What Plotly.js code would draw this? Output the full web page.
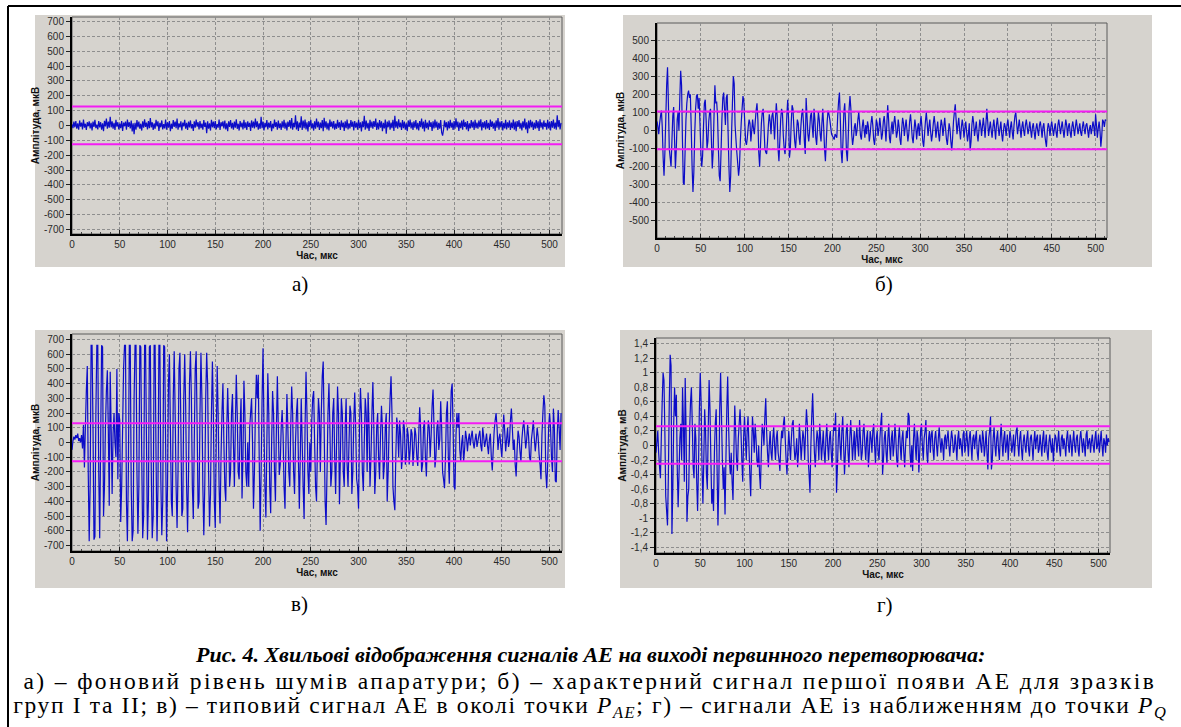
<!DOCTYPE html>
<html>
<head>
<meta charset="utf-8">
<script src="https://cdn.plot.ly/plotly-3.0.1.min.js"></script>
<style>
html,body{margin:0;padding:0;background:#fff;}
#chart{width:1181px;height:727px;}
.annotation[data-index="5"] text{letter-spacing:2.4px;}
.annotation[data-index="6"] text{letter-spacing:1.65px;}
</style>
</head>
<body>
<div id="chart"></div>
<script>
// ---------------- DATA ----------------
const SAMPLE_STEP_US = 1;
const xTickVals = [0,50,100,150,200,250,300,350,400,450,500];
const xTickText = ['0','50','100','150','200','250','300','350','400','450','500'];
const yTickVals700 = [-700,-600,-500,-400,-300,-200,-100,0,100,200,300,400,500,600,700];
const yTickText700 = ['-700','-600','-500','-400','-300','-200','-100','0','100','200','300','400','500','600','700'];
const yTickVals500 = [-500,-400,-300,-200,-100,0,100,200,300,400,500];
const yTickText500 = ['-500','-400','-300','-200','-100','0','100','200','300','400','500'];
const yTickValsMV = [-1.4,-1.2,-1,-0.8,-0.6,-0.4,-0.2,0,0.2,0.4,0.6,0.8,1,1.2,1.4];
const yTickTextMV = ['-1,4','-1,2','-1','-0,8','-0,6','-0,4','-0,2','0','0,2','0,4','0,6','0,8','1','1,2','1,4'];

const thresholdA = [128, -126];
const thresholdB = [105, -103];
const thresholdC = [130, -128];
const thresholdD = [0.265, -0.25];

// а) background noise, мкВ
const signalA = [
8,-18,26,-12,30,-22,14,-28,34,-8,20,-26,40,-14,12,-30,22,-5,28,-20,
18,-34,26,-9,38,-18,6,-26,30,-13,22,-28,14,-38,32,-6,46,-22,26,-14,
58,-12,28,-22,18,-30,38,-8,22,-26,12,-18,30,-36,20,-5,26,-28,40,-10,
22,-20,34,-40,14,-58,18,-28,36,-12,26,-22,12,-34,28,-14,42,-9,20,-26,
30,-18,50,-13,22,-30,14,-22,38,-6,28,-36,18,-12,34,-26,9,-20,40,-28,
22,-14,30,-38,12,-22,36,-9,26,-18,46,-28,14,-12,28,-34,20,-6,38,-22,
18,-30,26,-13,34,-20,9,-36,28,-14,40,-8,22,-26,30,-18,12,-28,36,-9,
20,-52,28,-22,14,-34,38,-12,26,-18,30,-26,9,-14,40,-30,22,-6,28,-20,
34,-26,14,-38,28,-9,36,-20,18,-28,26,-14,42,-22,12,-34,30,-12,20,-26,
38,-18,22,-30,28,-9,18,-36,34,-14,26,-20,46,-12,28,-28,14,-22,58,-18,
26,-34,18,-12,36,-26,20,-14,30,-38,12,-20,40,-9,22,-28,34,-18,14,-30,
28,-14,38,-22,20,-34,26,-9,36,-20,50,-28,18,-12,68,-26,28,-36,20,-14,
62,-30,34,-18,40,-26,22,-40,30,-9,38,-20,14,-34,28,-22,46,-12,26,-30,
20,-18,36,-38,52,-14,28,-26,18,-34,40,-9,26,-20,30,-28,12,-22,38,-14,
22,-30,34,-12,20,-36,28,-18,40,-26,14,-20,36,-9,26,-34,30,-14,20,-28,
38,-18,22,-40,28,-12,66,-28,34,-20,18,-36,38,-14,26,-22,30,-9,46,-30,
20,-26,36,-14,28,-38,18,-20,40,-56,26,-12,34,-28,20,-18,38,-36,66,-14,
28,-22,42,-12,20,-30,36,-18,26,-28,14,-38,34,-9,40,-20,22,-30,28,-14,
36,-26,18,-34,30,-12,46,-22,26,-40,38,-18,20,-28,34,-9,22,-36,28,-20,
40,-14,26,-30,18,-22,36,-46,-68,-28,34,-12,22,-34,28,-20,38,-14,20,-30,
30,-22,48,-12,26,-36,20,-18,34,-28,40,-9,22,-26,30,-38,14,-20,36,-14,
26,-30,38,-18,20,-22,34,-12,42,-34,22,-14,28,-26,36,-20,18,-30,40,-9,
28,-22,20,-36,34,-14,50,-28,26,-12,30,-34,18,-20,38,-26,22,-14,34,-30,
20,-18,40,-28,26,-38,30,-9,36,-22,18,-34,28,-14,46,-26,22,-52,34,-20,
38,-12,26,-30,20,-22,36,-18,28,-36,42,-14,22,-26,34,-9,18,-28,38,-20,
26,-34,30,-14,40,-22,20,-28,68,-12,36,-26,18
];

// б) first AE appearance, мкВ
const signalB = [
50,20,-20,40,80,110,20,-150,-250,-120,
60,250,350,150,-100,-150,-200,-60,80,130,
-50,-210,-100,60,100,0,180,330,250,-50,
-290,-300,-120,60,150,200,220,180,200,20,
-200,-340,-230,-20,120,190,200,120,180,40,
-120,-200,-140,20,150,170,60,-100,-60,50,
100,120,-50,-210,-120,80,250,150,160,80,
-100,-250,-280,-120,60,180,210,120,30,180,
200,0,-200,-340,-250,-20,150,300,260,30,
-50,-120,-180,-250,-200,-60,40,120,190,160,
50,-60,-80,-40,20,60,40,-60,0,60,
10,-20,50,110,150,60,-120,-200,-80,40,
100,120,20,-100,-120,-130,-60,30,90,50,
-20,80,100,40,-50,60,150,80,-100,-170,
-60,60,120,100,-30,-100,-130,-40,80,170,
60,-150,-100,40,140,120,20,-60,-100,-20,
60,40,-40,-80,20,90,120,40,-60,-130,
180,80,-20,-60,0,80,100,20,-40,120,
60,-40,-80,20,100,60,-20,-60,40,120,
20,-100,-170,-60,50,110,90,60,20,-20,
-30,-40,-50,-20,-30,-40,80,160,210,60,
-120,-180,-60,100,150,40,-120,-170,-40,120,
190,120,-20,-80,-40,20,40,-30,0,60,
100,40,-30,-50,20,60,10,-40,30,-20,
50,20,-60,-20,40,80,30,-50,-80,-20,
60,40,-30,10,70,20,-50,-20,50,80,
20,-60,30,140,60,-40,-70,10,50,-20,
40,80,30,-40,-10,60,20,-50,-80,10,
70,40,-30,20,60,0,-60,-20,50,90,
30,-40,-70,0,60,20,-50,10,40,-30,
30,80,20,-60,-90,-20,50,100,40,-30,
20,60,-10,-60,-20,40,80,30,-40,10,
50,-20,-60,10,60,30,-30,20,70,10,
-50,-80,-20,40,10,-60,-110,-40,50,100,
145,60,-20,30,70,0,-50,20,60,20,
-40,10,50,-10,-60,-20,40,-110,-60,30,
80,40,-30,10,50,-20,-60,0,60,30,
-30,20,70,20,-40,40,120,50,-30,10,
50,0,-40,20,60,10,-50,30,70,20,
-30,10,50,-20,-60,0,40,20,-30,30,
60,10,-40,20,50,-10,-50,30,80,100,
40,-20,20,60,10,-40,20,50,0,-30,
30,60,20,-20,10,50,0,-40,20,40,
-10,-50,10,40,0,-30,30,50,10,-40,
20,40,-20,-60,-90,0,40,20,-30,20,
50,10,-30,10,40,-10,-40,30,60,20,
-20,20,50,0,-40,10,60,30,-30,20,
40,-10,-40,20,50,10,-30,20,60,20,
-20,10,40,-10,-30,20,50,10,-20,30,
40,0,-40,10,30,-20,10,50,20,-30,
90,30,-40,10,50,0,-90,-30,60,50,
20,60,55
];

// в) typical AE signal near P_AE, мкВ
const signalC = [
-50,10,40,20,50,30,60,10,30,0,
50,-40,120,-170,100,350,520,-200,-670,-300,
660,660,100,-660,-640,200,660,660,-200,-650,
0,660,650,-500,-300,100,350,490,100,-430,
480,100,-350,60,200,0,-100,500,-250,200,
150,-540,-300,100,500,660,660,-400,-670,-200,
660,660,-300,-670,-600,300,660,660,-200,-620,
-300,660,650,-100,-650,-500,660,660,0,-660,
-400,650,660,-200,-650,-500,660,660,-100,-670,
-300,660,660,-250,-630,-400,660,650,0,-670,
-300,400,600,100,-400,-500,300,620,200,-300,
-580,-200,500,610,100,-500,-450,300,600,250,
-300,-610,-200,400,620,300,-300,-520,0,500,
620,100,-450,-400,200,610,300,-300,-630,-300,
300,610,400,-200,-570,-350,200,550,200,-400,
-580,0,520,200,-300,-550,-100,200,400,0,
-300,-400,100,370,100,-300,-200,200,330,0,
-300,100,460,200,-200,-250,100,300,-380,-100,
420,200,-200,-300,0,-300,100,200,300,0,
-450,-200,200,460,300,460,-100,-600,-200,300,
640,100,-300,-510,0,470,200,-300,-480,0,
350,200,-200,-400,100,450,100,-220,-150,100,
220,50,-300,-450,0,330,100,-200,-300,100,
380,200,-200,-350,0,200,300,-100,-450,-100,
300,0,-300,-520,100,480,200,-200,-350,0,
-200,150,300,350,0,-300,-400,0,300,200,
-200,200,450,550,100,-400,-560,-200,200,400,
100,-300,-200,200,300,-100,-350,0,380,200,
-420,-100,300,200,-200,-300,100,300,-150,-300,
0,250,200,-350,-200,150,340,100,-250,-300,
-450,100,370,200,-200,-330,0,300,200,-200,
340,100,-300,-100,200,410,100,-350,-200,100,
200,-100,-250,50,250,100,-250,-150,100,200,
-400,-200,100,300,450,200,-300,-400,-460,-100,
170,100,-100,150,50,-180,-100,150,100,-150,
-100,100,50,-150,-50,90,60,-160,-50,100,
50,-100,-160,50,240,100,-200,-150,100,150,
-100,-230,0,150,100,-100,50,250,360,100,
-170,-100,100,150,-50,20,280,100,-200,-250,
-310,-100,200,280,-100,-280,100,350,400,100,
-300,-320,50,200,100,200,-50,-130,0,50,
-130,-50,80,30,-60,20,60,-20,40,80,
0,-40,20,60,-30,10,50,80,-20,-60,
100,40,-30,10,60,-20,-80,20,60,-100,
-190,-50,80,150,200,100,-50,30,60,-30,
-100,40,190,80,-60,20,100,-30,10,150,
230,100,-50,20,-150,-230,-50,80,40,-60,
-130,20,100,150,60,-40,20,120,40,-100,
-130,20,80,150,30,-60,10,100,40,-80,
-150,-250,50,200,320,250,-200,-310,-150,100,
200,100,-100,-200,230,100,-260,-270,50,220,
100,-50,200
];

// г) AE signals approaching P_Q, мВ
const signalD = [
-0.1,0.05,0.2,-0.1,-0.3,-0.45,0.1,0.6,1.0,0.9,
0.2,-0.7,-0.9,-1.1,-0.4,0.6,1.25,1.1,-1.22,-0.6,
0.3,0.8,0.4,0.7,-0.3,-0.85,-0.4,0.1,0.3,-0.2,
0.8,0.3,-0.5,0.93,0.2,-1.05,-0.7,-0.6,0.2,0.6,
0.8,0.3,-0.3,-0.45,0.3,0.1,-0.5,-0.9,-0.3,0.5,
1.0,0.6,-0.3,-0.8,-0.2,0.5,0.2,-0.4,-0.6,0.2,
0.9,0.5,-0.2,-0.8,-0.6,-0.9,-0.1,0.3,0.5,-0.3,
-1.1,-0.5,0.5,1.0,0.4,-0.2,-0.6,-0.3,-0.95,-0.2,
0.5,0.95,0.3,-0.2,-0.4,-0.1,-0.5,-0.75,-0.1,0.55,
0.2,-0.2,-0.35,0.1,0.3,0.5,0.2,-0.2,-0.5,0.1,
0.4,0.1,-0.2,0.2,0.4,0.0,-0.4,-0.7,-0.1,0.4,
0.2,-0.1,0.3,0.1,-0.2,-0.3,0.0,-0.4,-0.6,-0.1,
0.3,0.2,0.0,0.4,0.65,0.2,-0.1,-0.3,0.0,0.2,
-0.1,-0.2,0.1,0.25,0.0,-0.2,0.1,0.2,-0.1,-0.2,
-0.35,0.0,0.2,0.1,0.3,0.4,0.1,-0.2,-0.4,-0.1,
0.2,0.0,-0.2,0.1,0.3,0.35,0.0,-0.2,-0.1,0.1,
-0.3,-0.1,0.3,0.1,-0.2,0.0,0.2,0.1,-0.2,0.2,
0.5,0.3,-0.2,-0.4,-0.65,0.0,0.4,0.72,0.3,-0.1,
-0.3,0.0,0.2,0.1,-0.2,0.3,0.1,-0.2,0.0,0.2,
-0.1,-0.25,0.1,0.3,0.0,-0.2,0.1,0.2,-0.1,-0.3,
0.1,0.3,0.2,0.45,-0.65,-0.3,0.1,0.3,0.0,-0.2,
0.2,0.4,0.0,-0.4,-0.1,0.2,0.3,-0.1,-0.3,0.1,
0.35,0.1,-0.2,0.0,0.2,-0.2,0.1,0.25,0.0,-0.15,
0.35,0.1,-0.2,-0.1,0.2,0.3,0.0,-0.2,0.1,0.2,
-0.3,-0.1,0.2,0.1,-0.1,0.2,0.3,0.0,-0.25,0.1,
0.2,-0.1,-0.2,0.1,0.3,0.45,-0.4,-0.2,0.1,0.2,
-0.1,-0.25,0.1,0.3,0.0,-0.2,0.1,0.2,-0.15,0.0,
0.3,0.1,-0.2,-0.3,0.1,0.25,0.0,-0.2,0.1,0.2,
-0.1,-0.3,0.0,0.2,0.1,0.45,0.4,-0.1,-0.3,0.0,
-0.35,0.1,0.3,0.0,-0.2,0.2,0.1,-0.37,-0.1,0.2,
0.3,0.0,-0.2,0.1,0.2,0.35,-0.1,-0.25,0.1,0.2,
-0.1,0.15,0.2,-0.05,-0.2,0.1,0.2,0.0,-0.15,0.1,
0.25,0.05,-0.1,0.1,0.0,-0.2,0.1,0.15,-0.05,0.1,
0.2,0.0,-0.15,0.05,0.2,0.1,-0.1,-0.05,0.15,0.0,
-0.2,0.1,0.2,-0.05,0.1,0.0,-0.15,0.15,0.2,-0.1,
0.0,0.2,0.05,-0.15,0.1,0.2,0.0,-0.2,0.1,0.15,
-0.05,0.1,0.2,-0.1,-0.2,0.05,0.15,0.0,-0.1,0.2,
0.1,-0.15,0.0,0.2,-0.1,-0.33,0.1,0.2,0.4,-0.33,
-0.2,0.1,0.25,0.0,-0.15,0.1,0.2,-0.05,-0.2,0.1,
0.3,0.05,-0.15,0.1,0.2,-0.1,0.0,0.15,-0.2,0.05,
0.2,0.1,-0.1,0.0,0.15,-0.15,0.05,0.2,0.25,0.0,
-0.15,0.1,0.2,-0.05,-0.2,0.05,0.15,0.0,-0.1,0.1,
0.2,-0.05,-0.15,0.1,0.15,0.0,-0.2,0.05,0.2,-0.05,
0.1,0.15,-0.1,-0.05,0.15,0.0,-0.15,0.1,0.2,-0.1,
0.0,0.15,-0.1,-0.2,0.05,0.15,0.0,-0.1,0.1,-0.22,
0.0,0.15,0.1,-0.1,0.05,0.2,-0.05,-0.15,0.1,0.15,
-0.05,0.1,0.0,-0.15,0.1,0.2,0.0,-0.1,0.15,0.05,
-0.15,0.05,0.2,0.0,-0.1,0.1,0.15,-0.05,-0.15,0.1,
0.2,0.05,-0.1,0.1,0.0,-0.15,0.15,0.2,-0.05,0.05,
0.1,-0.1,0.05,0.15,0.0,-0.1,0.1,0.2,-0.05,0.0,
0.15,-0.1,0.05,0.2,0.0,-0.15,0.1,0.05,-0.1,0.15,
0.0,0.1,0.05
];

const panelLabels = ['а)', 'б)', 'в)', 'г)'];
const captionTitle = 'Рис. 4. Хвильові відображення сигналів АЕ на виході первинного перетворювача:';
const captionLine1 = 'а) – фоновий рівень шумів апаратури; б) – характерний сигнал першої появи АЕ для зразків';
const captionLine2 = 'груп I та II; в) – типовий сигнал АЕ в околі точки <i>P<sub>AE</sub></i>; г) – сигнали АЕ із наближенням до точки <i>P<sub>Q</sub></i>';
const yTitleMkV = 'Амплітуда, мкВ';
const yTitleMV = 'Амплітуда, мВ';
const xTitle = 'Час, мкс';

// ---------------- LAYOUT ----------------
const W = 1181, H = 727;
const px = v => v / W;
const py = v => 1 - v / H;

const BG = '#d6d3ce';
const GRID = '#8e8e8e';
const TICKFONT = {family: 'Liberation Sans, Arial, sans-serif', size: 10, color: '#2a2a2a'};
const TITLEFONT = {family: 'Liberation Sans, Arial, sans-serif', size: 10, color: '#111'};

// plot-area boxes in pixels [left, right, top, bottom]
const boxes = [
  [72, 562, 17, 234],
  [657, 1107, 23, 238],
  [72, 562, 334, 551],
  [656, 1110, 338, 553]
];
const yRanges = [[-730, 730], [-594, 594], [-737, 737], [-1.48, 1.48]];
const yTicks = [[yTickVals700, yTickText700], [yTickVals500, yTickText500], [yTickVals700, yTickText700], [yTickValsMV, yTickTextMV]];
const yTitles = [yTitleMkV, yTitleMkV, yTitleMkV, yTitleMV];
const signals = [signalA, signalB, signalC, signalD];
const thresholds = [thresholdA, thresholdB, thresholdC, thresholdD];
// gray panel rectangles in pixels [x0, x1, y0, y1]
const panels = [
  [35, 565, 15, 267],
  [623, 1152, 15, 267],
  [35, 565, 330, 588],
  [620, 1152, 330, 588]
];
const labelPos = [[300, 284], [884, 284], [299, 604], [885, 605]];

const layout = {
  width: W, height: H,
  margin: {l: 0, r: 0, t: 0, b: 0},
  paper_bgcolor: '#ffffff',
  plot_bgcolor: BG,
  showlegend: false,
  shapes: [],
  annotations: []
};
const traces = [];

// outer frame (left & top edges visible)
layout.shapes.push({type: 'line', xref: 'paper', yref: 'paper', x0: px(8), x1: px(8), y0: py(6), y1: 0, line: {color: '#000', width: 2}, layer: 'below'});
layout.shapes.push({type: 'line', xref: 'paper', yref: 'paper', x0: px(8), x1: 1, y0: py(6), y1: py(6), line: {color: '#000', width: 2}, layer: 'below'});

panels.forEach(p => {
  layout.shapes.push({type: 'rect', xref: 'paper', yref: 'paper', x0: px(p[0]), x1: px(p[1]), y0: py(p[3]), y1: py(p[2]), fillcolor: BG, line: {width: 0}, layer: 'below'});
});

for (let i = 0; i < 4; i++) {
  const n = i === 0 ? '' : String(i + 1);
  const xa = 'xaxis' + n, ya = 'yaxis' + n;
  const xr = 'x' + n, yr = 'y' + n;
  const b = boxes[i];
  layout[xa] = {
    domain: [px(b[0]), px(b[1])], anchor: yr, range: [0, 513],
    tickmode: 'array', tickvals: xTickVals, ticktext: xTickText,
    ticks: 'inside', ticklen: 4, tickcolor: '#222', tickwidth: 1,
    minor: {ticks: 'inside', dtick: 10, tick0: 0, ticklen: 2, tickcolor: '#444', showgrid: false},
    showgrid: true, gridcolor: GRID, gridwidth: 1, griddash: '3px,2px',
    zeroline: false, showline: true, linecolor: '#000', linewidth: 2,
    tickfont: TICKFONT, fixedrange: true,
    title: {text: '<b>' + xTitle + '</b>', font: TITLEFONT, standoff: 3}
  };
  layout[ya] = {
    domain: [py(b[3]), py(b[2])], anchor: xr, range: yRanges[i],
    tickmode: 'array', tickvals: yTicks[i][0], ticktext: yTicks[i][1],
    ticks: 'outside', ticklen: 4, tickcolor: '#222', tickwidth: 1,
    showgrid: true, gridcolor: GRID, gridwidth: 1, griddash: '3px,2px',
    zeroline: false, showline: true, linecolor: '#000', linewidth: 2,
    tickfont: TICKFONT, fixedrange: true,
    title: {text: '<b>' + yTitles[i] + '</b>', font: TITLEFONT, standoff: 2}
  };
  // top & right frame edges
  layout.shapes.push({type: 'rect', xref: xr + ' domain', yref: yr + ' domain', x0: 0, x1: 1, y0: 0, y1: 1, line: {color: '#5a5a5a', width: 1}, layer: 'below'});
  // threshold lines
  thresholds[i].forEach(t => {
    layout.shapes.push({type: 'line', xref: xr + ' domain', yref: yr, x0: 0, x1: 1, y0: t, y1: t, line: {color: '#f41cf4', width: 2}, layer: 'above'});
  });
  traces.push({
    type: 'scatter', mode: 'lines', x0: 0, dx: SAMPLE_STEP_US, y: signals[i],
    xaxis: xr, yaxis: yr, line: {color: '#0c0cc8', width: 1.2, simplify: false},
    hoverinfo: 'skip'
  });
  layout.annotations.push({
    xref: 'paper', yref: 'paper', x: px(labelPos[i][0]), y: py(labelPos[i][1]),
    text: panelLabels[i], showarrow: false, xanchor: 'center', yanchor: 'middle',
    font: {family: 'Liberation Serif, Times New Roman, serif', size: 21, color: '#000'}
  });
}

const capTitleFont = {family: 'Liberation Serif, Times New Roman, serif', size: 22, color: '#000'};
const capFont = {family: 'Liberation Serif, Times New Roman, serif', size: 23.5, color: '#000'};
layout.annotations.push({xref: 'paper', yref: 'paper', x: px(590), y: py(654), text: '<b><i>' + captionTitle + '</i></b>', showarrow: false, xanchor: 'center', yanchor: 'middle', borderpad: 0, font: capTitleFont});
layout.annotations.push({xref: 'paper', yref: 'paper', x: px(590), y: py(680.5), text: captionLine1, showarrow: false, xanchor: 'center', yanchor: 'middle', borderpad: 0, font: capFont});
layout.annotations.push({xref: 'paper', yref: 'paper', x: px(590), y: py(707), text: captionLine2, showarrow: false, xanchor: 'center', yanchor: 'middle', borderpad: 0, font: capFont});

Plotly.newPlot('chart', traces, layout, {displayModeBar: false, staticPlot: true});
</script>
</body>
</html>
